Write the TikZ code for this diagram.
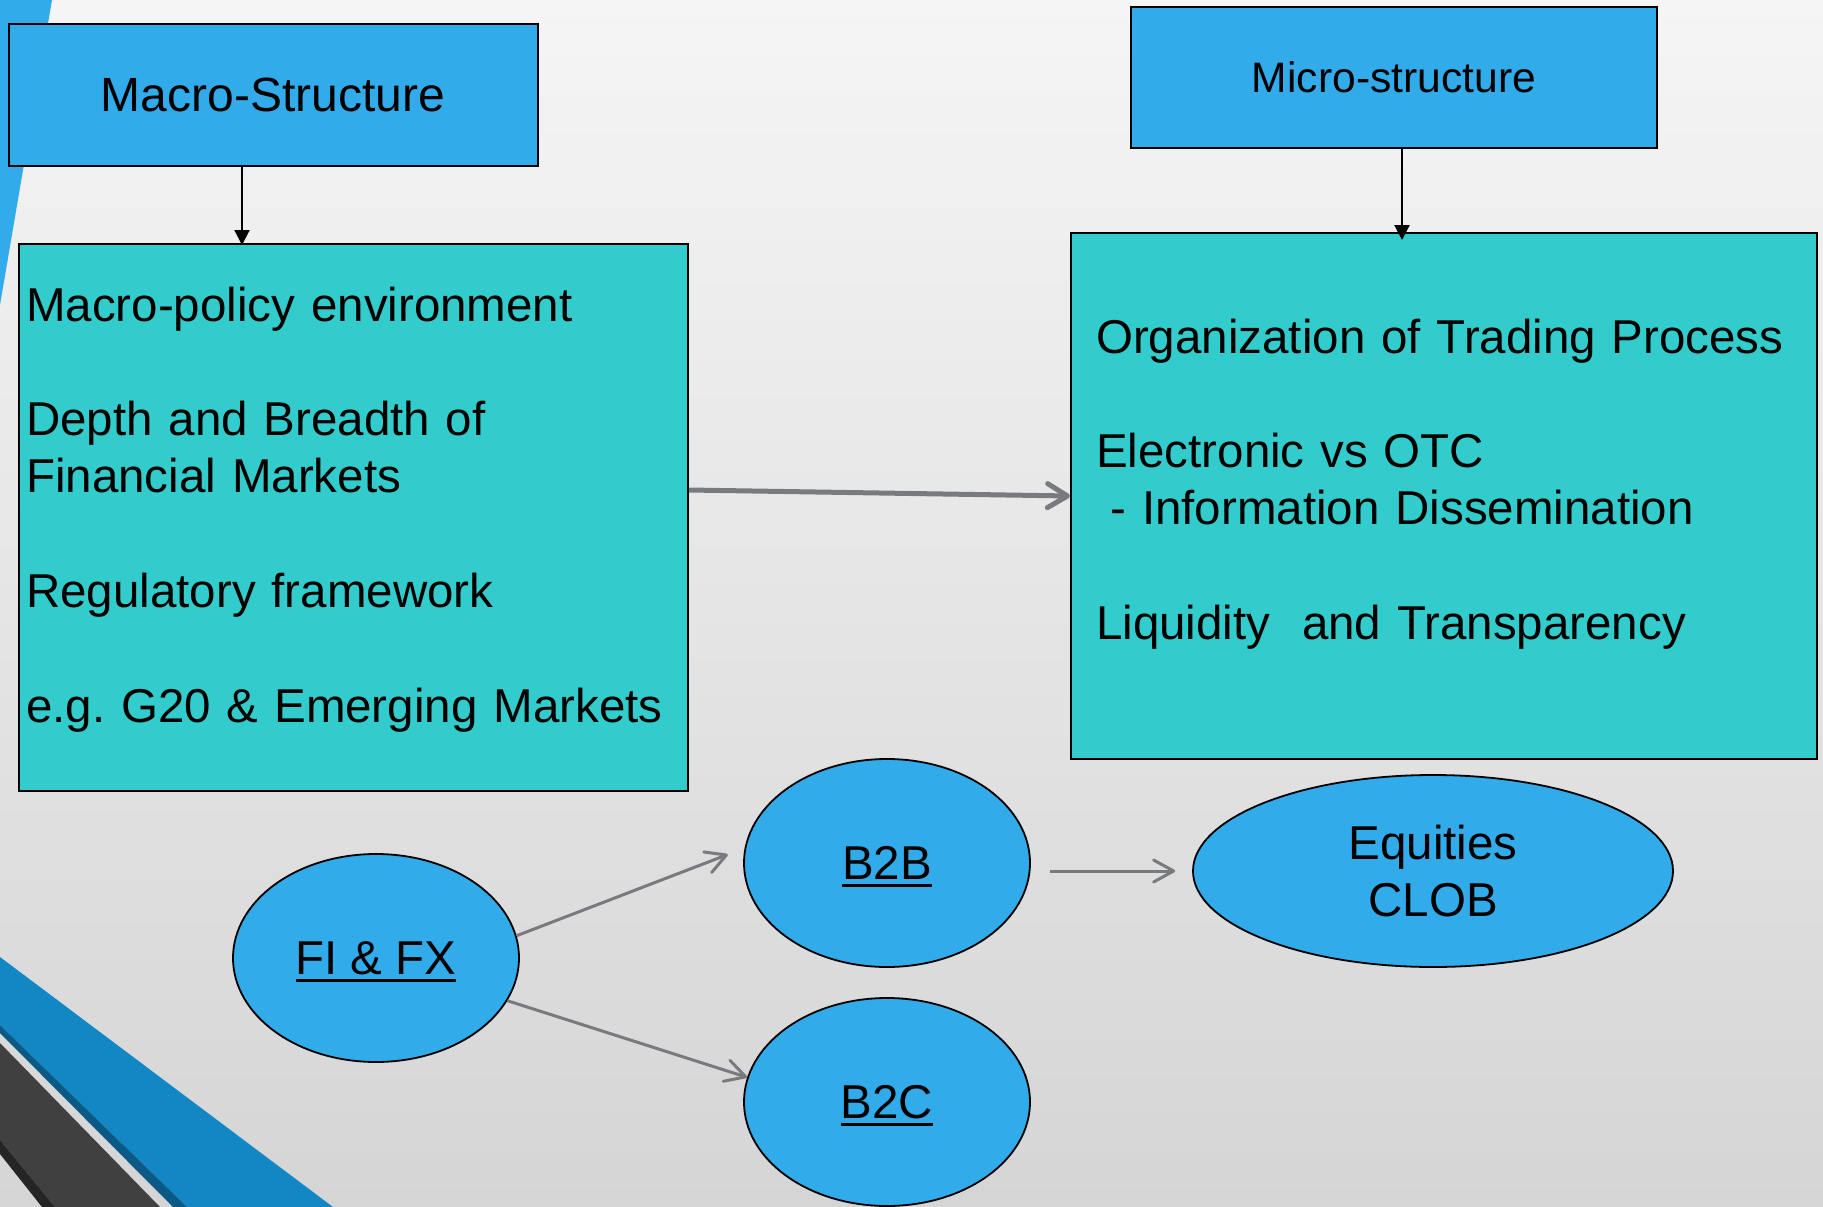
\documentclass[tikz,border=0pt]{standalone}
\usepackage{fontspec}
\setmainfont{Liberation Sans}
\usetikzlibrary{shapes.geometric,arrows.meta}

\definecolor{bgtop}{RGB}{245,245,245}
\definecolor{bgbottom}{RGB}{213,213,213}
\definecolor{boxblue}{RGB}{49,171,234}
\definecolor{boxteal}{RGB}{51,204,204}
\definecolor{arrowgray}{RGB}{120,122,125}
\definecolor{stripeblue}{RGB}{19,134,196}
\definecolor{stripedark}{RGB}{11,90,133}
\definecolor{stripegray}{RGB}{64,64,64}
\definecolor{stripeblack}{RGB}{37,37,37}

% underline that does not change the height of the text
\newcommand{\undl}[1]{\setbox0\hbox{#1}\rlap{\smash{\vrule width\wd0 height -0.095em depth 0.158em}}\box0}

\tikzset{
  headbox/.style={draw=black, line width=2pt, fill=boxblue, minimum height=141pt, inner sep=0pt},
  bodybox/.style={draw=black, line width=2pt, fill=boxteal, inner sep=0pt},
  bodytext/.style={anchor=base west, inner sep=0pt, align=left, text width=720pt,
    font=\fontsize{47.5}{57.3}\selectfont},
  market/.style={ellipse, draw=black, line width=1.8pt, fill=boxblue, inner sep=0pt,
    minimum width=286pt, minimum height=208pt, font=\fontsize{47.5}{57}\selectfont},
  headarrow/.style={draw=black, line width=2.2pt, -{Triangle[length=15pt,width=15pt]}},
  bigarrow/.style={draw=arrowgray, line width=5pt, -{Straight Barb[length=20pt,width=24pt,round]}},
  marketarrow/.style={draw=arrowgray, line width=3pt, -{Straight Barb[length=20pt,width=22pt,round]}}
}

\begin{document}
\frenchspacing
\begin{tikzpicture}[x=1pt,y=-1pt]
\useasboundingbox (0,0) rectangle (1823,1207);
% background and stripes
    \shade[top color=bgtop, bottom color=bgbottom] (0,0) rectangle (1823,1207);
    \fill[boxblue] (0,0) -- (52,0) -- (0,305) -- cycle;
    \fill[stripeblue] (0,957) -- (333,1207) -- (187,1207) -- (0,1025) -- cycle;
    \fill[stripedark] (0,1025) -- (187,1207) -- (173,1207) -- (0,1033) -- cycle;
    \fill[stripegray] (0,1043) -- (160,1207) -- (55,1207) -- (0,1140) -- cycle;
    \fill[stripeblack] (0,1140) -- (55,1207) -- (42,1207) -- (0,1154) -- cycle;
% the two headings
    \node[headbox, minimum width=529pt, font=\fontsize{48}{57}\selectfont] (macrohead) at (273,95) {Macro-Structure};
    \node[headbox, minimum width=526pt, font=\fontsize{42.6}{51}\selectfont] (microhead) at (1394,77.5) {Micro-structure};
% the two lists
    \node[bodybox, minimum width=669pt, minimum height=547pt] (macrobody) at (353.3,517.5) {};
    \node[bodybox, minimum width=746pt, minimum height=526pt] (microbody) at (1444,496) {};
    \node[bodytext] (macrolist) at (26,321) {Macro-policy environment\\[57.3pt]
        Depth and Breadth of\\Financial Markets\\[57.3pt]
        Regulatory framework\\[57.3pt]
        e.g. G20 \& Emerging Markets};
    \node[bodytext] (microlist) at (1096,353) {Organization of Trading Process\\[57.3pt]
        Electronic vs OTC\\\hspace*{0.3em}- Information Dissemination\\[57.3pt]
        Liquidity\ \ and Transparency};
% markets
    \node[market] (fifx) at (376,958) {\undl{FI \& FX}};
    \node[market] (b2b) at (887,863) {\undl{B2B}};
    \node[market] (b2c) at (887,1102) {\undl{B2C}};
    \node[market, minimum width=480pt, minimum height=192pt, align=center] (equities) at (1433,871) {Equities\\CLOB};
% arrows
    \coordinate (macrodrop) at ([xshift=-31pt]macrohead.south);
    \coordinate (microdrop) at ([xshift=8pt]microhead.south);
    \draw[headarrow, shorten >=-2pt] (macrodrop) -- (macrodrop |- macrobody.north);
    \draw[headarrow, shorten >=-8pt] (microdrop) -- (microdrop |- microbody.north);
    \draw[bigarrow] ([yshift=27.5pt]macrobody.east) -- (microbody.west);
    \draw[marketarrow, shorten >=18pt] (fifx.9) -- (b2b.174);
    \draw[marketarrow] (fifx.-18) -- (b2c.170);
    \draw[marketarrow, shorten <=19pt, shorten >=17pt] (b2b.east |- equities.west) -- (equities.west);
\end{tikzpicture}
\end{document}
